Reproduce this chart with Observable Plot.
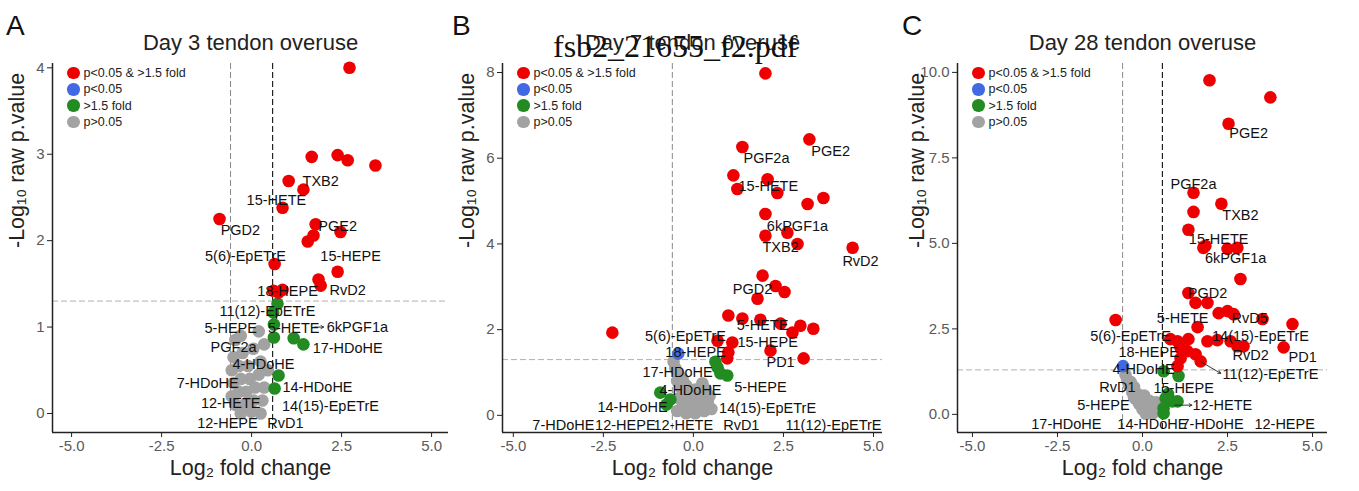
<!DOCTYPE html>
<html><head><meta charset="utf-8">
<script src="https://cdn.jsdelivr.net/npm/d3@7"></script>
<script src="https://cdn.jsdelivr.net/npm/@observablehq/plot@0.6"></script>
<style>
body{margin:0;background:#fff;font-family:"Liberation Sans",Arial,sans-serif;}
#wrap{position:relative;width:1359px;height:491px;overflow:hidden;background:#fff;}
.panel{position:absolute;top:0;}
.letter{position:absolute;top:12px;font-size:28px;line-height:28px;color:#111;}
.legend{position:absolute;top:65px;font-size:12.5px;color:#222;}
.legend .row{display:flex;align-items:center;height:16.3px;white-space:nowrap;}
.legend .sw{display:inline-block;width:12.5px;height:12.5px;border-radius:50%;margin-right:4px;}
.wm{position:absolute;font-family:"Liberation Serif","DejaVu Serif",serif;font-size:32px;line-height:32px;top:30px;left:553px;color:#111;white-space:nowrap;}
</style></head>
<body>
<div id="wrap"></div>
<script>
// ---------- shared ----------
const xTicks = [-5, -2.5, 0, 2.5, 5];
const fcCutoff = Math.log2(1.5);
const pCutoff = -Math.log10(0.05);
const legendLabels = ["p<0.05 & >1.5 fold", "p<0.05", ">1.5 fold", "p>0.05"];
const legendColors = ["#ee0000", "#4169e1", "#228b22", "#a2a2a2"];
const panelLetters = ["A", "B", "C"];
const titles = ["Day 3 tendon overuse", "Day 7 tendon overuse", "Day 28 tendon overuse"];
const xTitle = "Log\u2082 fold change";
const yTitle = "-Log\u2081\u2080 raw p.value";
const watermark = "fsb2_21655_f2.pdf";

// ---------- Panel A (Day 3) : [log2FC, -log10 p] ----------
const A_sig = [[2.72,4.0],[1.67,2.97],[2.39,2.99],[2.67,2.93],[3.44,2.87],[1.03,2.69],[1.44,2.59],[0.86,2.38],[-0.89,2.25],[1.78,2.19],[2.47,2.10],[1.72,2.06],[1.56,1.99],[0.64,1.73],[2.39,1.64],[1.86,1.55],[1.92,1.48],[0.61,1.42],[0.86,1.43],[0.75,1.40]];
const A_p = [];
const A_fc = [[0.72,1.27],[0.60,1.17],[0.62,1.03],[0.62,0.88],[1.17,0.87],[1.44,0.80],[0.75,0.44],[0.64,0.29]];
const A_ns = [[-0.45,0.85],[-0.3,0.9],[0.2,0.95],[0.35,0.8],[-0.5,0.65],[-0.25,0.7],[0.05,0.75],[-0.55,0.5],[-0.35,0.55],[-0.1,0.55],[0.25,0.6],[-0.5,0.35],[-0.3,0.4],[-0.05,0.4],[0.2,0.45],[-0.55,0.2],[-0.35,0.25],[-0.15,0.25],[0.1,0.3],[0.35,0.3],[-0.45,0.1],[-0.2,0.1],[0.05,0.15],[0.3,0.15],[-0.3,0.0],[0.0,0.02],[0.25,0.0],[0.45,0.5]];
const A_labels = [["TXB2",1.92,2.69],["15-HETE",0.69,2.47],["PGD2",-0.31,2.12],["PGE2",2.39,2.16],["5(6)-EpETrE",-0.17,1.82],["15-HEPE",2.75,1.82],["18-HEPE",1.0,1.41],["RvD2",2.67,1.42],["11(12)-EpETrE",0.44,1.18],["5-HEPE",-0.58,0.99],["5-HETE",1.17,0.99],["6kPGF1a",2.94,1.0],["PGF2a",-0.5,0.77],["17-HDoHE",2.67,0.75],["4-HDoHE",0.33,0.57],["7-HDoHE",-1.22,0.35],["14-HDoHE",1.83,0.30],["12-HETE",-0.58,0.12],["14(15)-EpETrE",2.19,0.08],["12-HEPE",-0.67,-0.12],["RvD1",0.94,-0.12]];
const A_arrows = [[1.75,1.0,2.0,1.0]];

// ---------- Panel B (Day 7) ----------
const B_sig = [[2.0,7.98],[3.22,6.44],[1.36,6.26],[1.11,5.6],[2.06,5.51],[1.22,5.28],[2.33,5.19],[3.61,5.07],[3.17,4.93],[2.0,4.70],[2.61,4.26],[2.0,4.19],[2.89,4.0],[4.42,3.91],[1.92,3.26],[2.28,3.02],[2.53,2.88],[1.78,2.72],[-2.25,1.93],[0.97,2.33],[1.36,2.26],[1.86,2.23],[2.42,2.14],[2.97,2.09],[3.33,2.02],[2.75,1.93],[0.67,1.74],[1.08,1.70],[0.97,1.47],[2.14,1.51],[0.94,1.33],[3.06,1.33]];
const B_p = [[-0.42,1.44]];
const B_fc = [[0.61,1.25],[0.67,1.12],[0.75,0.98],[0.94,0.93],[-0.92,0.53],[-0.64,0.37],[-0.75,0.25]];
const B_ns = [[-0.55,1.25],[-0.5,1.1],[-0.4,0.95],[-0.45,0.8],[-0.3,0.85],[-0.35,0.65],[-0.2,0.7],[-0.25,0.5],[-0.1,0.55],[0.05,0.6],[0.25,0.75],[0.35,0.6],[-0.4,0.4],[-0.15,0.35],[0.0,0.4],[0.2,0.45],[-0.3,0.2],[-0.05,0.2],[0.15,0.25],[0.4,0.3],[-0.2,0.05],[0.05,0.05],[0.3,0.1],[0.5,0.15],[-0.45,0.1],[0.45,0.45]];
const B_labels = [["PGE2",3.81,6.16],["PGF2a",2.03,6.0],["15-HETE",2.08,5.35],["6kPGF1a",2.89,4.40],["TXB2",2.42,3.91],["RvD2",4.64,3.6],["PGD2",1.64,2.93],["5-HETE",1.92,2.09],["5(6)-EpETrE",-0.22,1.84],["15-HEPE",2.06,1.70],["18-HEPE",0.06,1.47],["PD1",2.42,1.23],["17-HDoHE",-0.44,1.0],["4-HDoHE",-0.08,0.58],["5-HEPE",1.86,0.65],["14-HDoHE",-1.69,0.19],["14(15)-EpETrE",2.06,0.16],["7-HDoHE",-3.61,-0.23],["12-HEPE",-1.89,-0.23],["12-HETE",-0.28,-0.23],["RvD1",1.33,-0.23],["11(12)-EpETrE",3.89,-0.23]];
const B_arrows = [];

// ---------- Panel C (Day 28) ----------
const C_sig = [[1.97,9.77],[3.76,9.27],[2.53,8.5],[1.5,6.48],[2.32,6.16],[1.5,5.92],[1.35,5.40],[1.85,4.93],[2.5,4.84],[2.79,4.87],[1.79,4.87],[2.88,3.96],[1.35,3.55],[1.56,3.26],[1.91,3.26],[2.24,2.96],[2.5,3.02],[2.68,2.93],[3.53,2.79],[-0.79,2.76],[4.41,2.64],[1.62,2.55],[0.82,2.2],[1.03,2.14],[1.35,2.2],[1.91,2.14],[2.2,2.17],[2.59,2.14],[2.79,1.99],[2.97,1.99],[4.15,1.96],[1.12,1.94],[1.32,1.85],[1.56,1.76],[1.71,1.55],[1.12,1.64],[1.03,1.41]];
const C_p = [[-0.57,1.41]];
const C_fc = [[0.62,1.26],[1.06,1.12],[0.75,0.6],[0.68,0.47],[0.88,0.38],[1.03,0.38],[0.62,0.18],[0.62,0.03]];
const C_ns = [[-0.5,1.15],[-0.45,1.0],[-0.35,0.95],[-0.4,0.85],[-0.25,0.8],[-0.3,0.65],[-0.15,0.6],[-0.2,0.45],[-0.05,0.45],[0.05,0.55],[-0.1,0.3],[0.1,0.3],[0.2,0.4],[0.0,0.15],[0.2,0.15],[0.35,0.2],[0.1,0.02],[0.3,0.03],[0.45,0.1],[-0.25,0.5],[0.4,0.35]];
const C_labels = [["PGE2",3.12,8.21],["PGF2a",1.5,6.74],["TXB2",2.88,5.83],["15-HETE",2.24,5.13],["6kPGF1a",2.74,4.57],["PGD2",1.91,3.55],["5-HETE",1.18,2.82],["RvD5",3.15,2.82],["5(6)-EpETrE",-0.35,2.29],["14(15)-EpETrE",3.47,2.29],["18-HEPE",0.18,1.82],["RvD2",3.18,1.73],["PD1",4.71,1.67],["4-HDoHE",0.03,1.32],["11(12)-EpETrE",3.76,1.17],["RvD1",-0.74,0.79],["15-HEPE",1.21,0.76],["5-HEPE",-1.15,0.26],["12-HETE",2.35,0.26],["17-HDoHE",-2.24,-0.29],["14-HDoHE",0.29,-0.29],["7-HDoHE",2.06,-0.29],["12-HEPE",4.18,-0.29]];
const C_arrows = [[1.7,1.55,2.3,1.2],[0.95,0.27,1.45,0.27]];

// ---------- layout config (styles/positions) ----------
const panels = [
  {left:0, width:450, ml:52, mr:2, xdom:[-5.53,5.47], ydom:[-0.22,4.05], yticks:[0,1,2,3,4], yfmt:d=>String(d), rightLine:true,
   sig:A_sig, p:A_p, fc:A_fc, ns:A_ns, labels:A_labels, arrows:A_arrows, letterLeft:6},
  {left:450, width:450, ml:52, mr:18, xdom:[-5.3,5.25], ydom:[-0.40,8.21], yticks:[0,2,4,6,8], yfmt:d=>String(d), rightLine:false,
   sig:B_sig, p:B_p, fc:B_fc, ns:B_ns, labels:B_labels, arrows:B_arrows, letterLeft:452},
  {left:900, width:459, ml:57, mr:32, xdom:[-5.44,5.44], ydom:[-0.53,10.26], yticks:[0,2.5,5,7.5,10], yfmt:d=>d.toFixed(1), rightLine:true,
   sig:C_sig, p:C_p, fc:C_fc, ns:C_ns, labels:C_labels, arrows:C_arrows, letterLeft:902}
];

const wrap = document.getElementById("wrap");
const FONT = "'Liberation Sans', Arial, sans-serif";

panels.forEach((cfg, i) => {
  const X = d => d[0], Y = d => d[1];
  const marks = [
    Plot.ruleY([pCutoff], {stroke:"#b0b0b0", strokeDasharray:"6,3", strokeWidth:1}),
    Plot.ruleX([-fcCutoff], {stroke:"#8a8a8a", strokeDasharray:"6,3", strokeWidth:1}),
  ];
  if (cfg.rightLine) marks.push(Plot.ruleX([fcCutoff], {stroke:"#111", strokeDasharray:"6,3", strokeWidth:1.1}));
  marks.push(
    Plot.dot(cfg.ns, {x:X, y:Y, r:6.3, fill:legendColors[3]}),
    Plot.dot(cfg.fc, {x:X, y:Y, r:6.3, fill:legendColors[2]}),
    Plot.dot(cfg.p, {x:X, y:Y, r:6.3, fill:legendColors[1]}),
    Plot.dot(cfg.sig, {x:X, y:Y, r:6.3, fill:legendColors[0]}),
    Plot.arrow(cfg.arrows, {x1:d=>d[0], y1:d=>d[1], x2:d=>d[2], y2:d=>d[3], stroke:"#222", strokeWidth:0.9, headLength:5}),
    Plot.text(cfg.labels, {x:d=>d[1], y:d=>d[2], text:d=>d[0], fontSize:14.5, fill:"#111", textAnchor:"middle", lineAnchor:"middle"}),
    Plot.axisX({ticks:xTicks, tickFormat:d=>d.toFixed(1), tickSize:5, tickPadding:3, fontSize:15, stroke:"#222", fill:"#5a5a5a", label:null}),
    Plot.axisY({ticks:cfg.yticks, tickFormat:cfg.yfmt, tickSize:5, tickPadding:3, fontSize:15, stroke:"#222", fill:"#5a5a5a", label:null}),
    Plot.ruleX([cfg.xdom[0]], {stroke:"#222", strokeWidth:1.5}),
    Plot.ruleY([cfg.ydom[0]], {stroke:"#222", strokeWidth:1.5}),
    Plot.text([titles[i]], {frameAnchor:"top", dy:-21, fontSize:22, fill:"#222", text:d=>d, lineAnchor:"middle"}),
    Plot.text([xTitle], {frameAnchor:"bottom", dy:36, fontSize:21.5, fill:"#222", text:d=>d, lineAnchor:"middle"}),
    Plot.text([yTitle], {frameAnchor:"left", dx:-cfg.ml+17, rotate:-90, fontSize:21.5, fill:"#222", text:d=>d, lineAnchor:"middle"})
  );
  const svg = Plot.plot({
    width: cfg.width, height: 491,
    marginLeft: cfg.ml, marginRight: cfg.mr, marginTop: 63, marginBottom: 59,
    x: {domain: cfg.xdom},
    y: {domain: cfg.ydom},
    style: {fontFamily: FONT, background: "transparent", overflow: "visible"},
    marks
  });
  const div = document.createElement("div");
  div.className = "panel";
  div.style.left = cfg.left + "px";
  div.appendChild(svg);
  wrap.appendChild(div);

  // panel letter
  const L = document.createElement("div");
  L.className = "letter";
  L.style.left = cfg.letterLeft + "px";
  L.textContent = panelLetters[i];
  wrap.appendChild(L);

  // legend (inside plot, top-left)
  const lg = document.createElement("div");
  lg.className = "legend";
  lg.style.left = (cfg.left + cfg.ml + 15) + "px";
  legendLabels.forEach((t, k) => {
    const r = document.createElement("div");
    r.className = "row";
    const s = document.createElement("span");
    s.className = "sw";
    s.style.background = legendColors[k];
    r.appendChild(s);
    r.appendChild(document.createTextNode(t));
    lg.appendChild(r);
  });
  wrap.appendChild(lg);
});

const wm = document.createElement("div");
wm.className = "wm";
wm.textContent = watermark;
wrap.appendChild(wm);
</script>
</body></html>
